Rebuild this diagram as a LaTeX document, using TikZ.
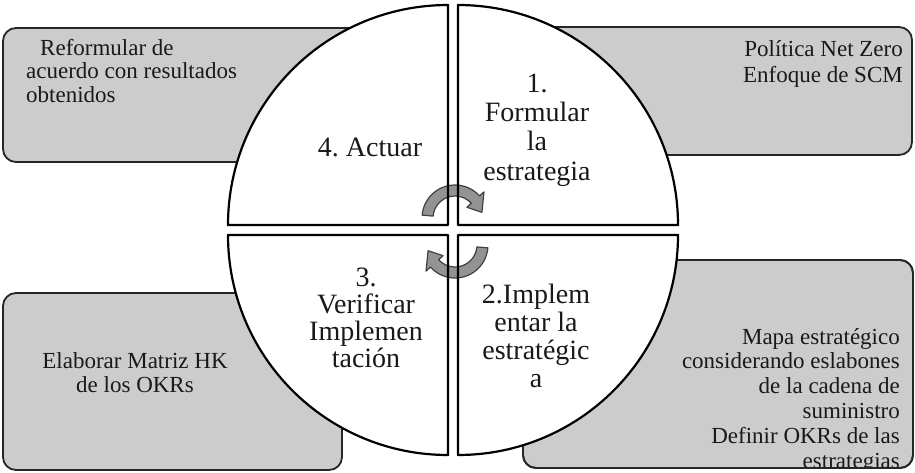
\documentclass[tikz,border=0pt]{standalone}
\usepackage{fontspec}
\setmainfont{Liberation Serif}
\frenchspacing
\begin{document}
\begin{tikzpicture}[x=1pt,y=-1pt,
  box/.style={draw=black!85, line width=1.8pt, fill=gray!40, rounded corners=13pt},
  boxline/.style={draw=black!85, line width=1.8pt, rounded corners=13pt},
  quadfill/.style={fill=white},
  quadline/.style={draw=black, line width=2.2pt, line join=round},
  cyc/.style={draw=black!75, line width=1.2pt, fill=gray!85, line join=round},
  btxt/.style={font=\fontsize{23}{23.5}\selectfont, inner sep=0pt, anchor=base, text=black!90},
  qtxt/.style={inner sep=0pt, anchor=base, align=center, text=black!90}]
\fill[white] (0,0) rectangle (915,472);
\useasboundingbox (0,0) rectangle (915,472);

% grey boxes
\draw[box] (3,28) rectangle (420,162);
\draw[box] (490,27) rectangle (912,155);
\draw[box] (3,293) rectangle (342,470);
\draw[box] (523,260) rectangle (913,468);

% box texts (anchored at the baseline of the last line)
\node[btxt, align=left, anchor=base west] (tl) at (26,102)
  {\hspace*{14pt}Reformular de\\acuerdo con resultados\\obtenidos};
\node[btxt, align=right, anchor=base east, font=\fontsize{23}{26}\selectfont] (tr) at (903,82)
  {Política Net Zero\\Enfoque de SCM};
\node[btxt, align=center, font=\fontsize{23}{24}\selectfont] (bl) at (135,392)
  {Elaborar Matriz HK\\de los OKRs};
\begin{scope}
  \clip[rounded corners=13pt] (523,260) rectangle (913,468);
  \node[btxt, align=right, anchor=base east, font=\fontsize{23}{24.8}\selectfont] (br) at (900,468)
    {Mapa estratégico\\considerando eslabones\\de la cadena de\\suministro\\Definir OKRs de las\\estrategias};
\end{scope}
\draw[boxline] (523,260) rectangle (913,468);

% quadrants
\path[quadfill] (448,225) -- (228,225) arc[start angle=180, end angle=270, radius=220] -- cycle;
\path[quadfill] (458,225) -- (458,5) arc[start angle=270, end angle=360, radius=220] -- cycle;
\path[quadfill] (448,235) -- (448,455) arc[start angle=90, end angle=180, radius=220] -- cycle;
\path[quadfill] (458,235) -- (678,235) arc[start angle=0, end angle=90, radius=220] -- cycle;

% cycle arrows
\begin{scope}[shift={(455,218)}]
  \draw[cyc] (185:33) arc[start angle=185, end angle=318, radius=33]
    -- (318:39) -- (348:27.5) -- (318:16) -- (318:22)
    arc[start angle=318, end angle=185, radius=22] -- cycle;
\end{scope}
\begin{scope}[shift={(455,245)}]
  \draw[cyc] (5:33) arc[start angle=5, end angle=138, radius=33]
    -- (138:39) -- (168:27.5) -- (138:16) -- (138:22)
    arc[start angle=138, end angle=5, radius=22] -- cycle;
\end{scope}

% quadrant outlines
\draw[quadline] (448,225) -- (228,225) arc[start angle=180, end angle=270, radius=220] -- cycle;
\draw[quadline] (458,225) -- (458,5) arc[start angle=270, end angle=360, radius=220] -- cycle;
\draw[quadline] (448,235) -- (448,455) arc[start angle=90, end angle=180, radius=220] -- cycle;
\draw[quadline] (458,235) -- (678,235) arc[start angle=0, end angle=90, radius=220] -- cycle;

% quadrant texts (anchored at the baseline of the last line)
\node[qtxt, font=\fontsize{28}{29}\selectfont] (q4) at (370,156) {4. Actuar};
\node[qtxt, font=\fontsize{28}{29.3}\selectfont] (q1) at (537,180) {1.\\Formular\\la\\estrategia};
\node[qtxt, font=\fontsize{28}{26.7}\selectfont] (q3) at (366,367) {3.\\Verificar\\Implemen\\tación};
\node[qtxt, font=\fontsize{28}{28}\selectfont] (q2) at (536,387) {2.Implem\\entar la\\estratégic\\a};
\end{tikzpicture}
\end{document}
